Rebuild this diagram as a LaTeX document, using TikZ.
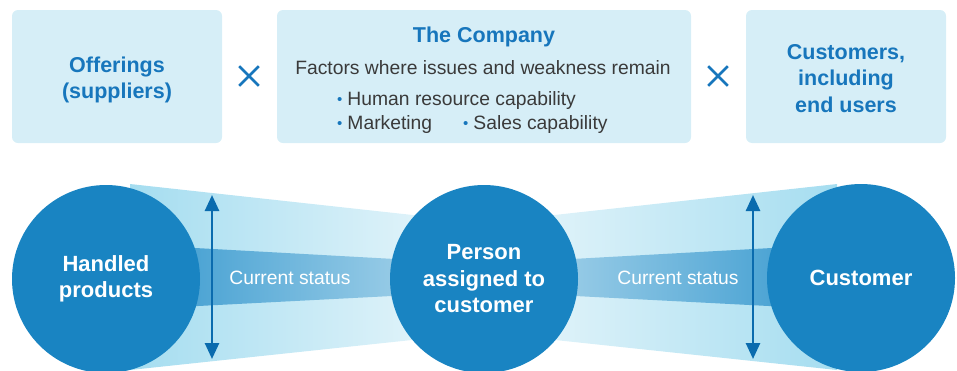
\documentclass[tikz,border=0pt]{standalone}
\usepackage{fontspec}
\setmainfont{Liberation Sans}
\usetikzlibrary{arrows.meta,shapes.misc}

\definecolor{boxfill}{HTML}{D6EEF7}
\definecolor{headblue}{HTML}{1776BC}
\definecolor{discblue}{HTML}{1984C2}
\definecolor{arrowblue}{HTML}{0A6BAE}
\definecolor{beamdark}{HTML}{A5DDF0}
\definecolor{beamlight}{HTML}{E3F4FA}
\definecolor{banddark}{HTML}{3D9CD0}
\definecolor{bandlight}{HTML}{A6D3EA}
\definecolor{bodygray}{HTML}{3A3A3A}

\tikzset{
  panel/.style={rectangle, rounded corners=6pt, fill=boxfill, minimum height=133pt, inner sep=0pt},
  headtext/.style={text=headblue, font=\fontsize{21.5}{26.5}\selectfont\bfseries, align=center},
  bodytext/.style={text=bodygray, font=\fontsize{19.3}{22}\selectfont, inner sep=0pt},
  times/.style={cross out, draw=headblue, line width=2.6pt, minimum size=17pt, inner sep=0pt},
  disc/.style={circle, fill=discblue, minimum size=188pt, inner sep=0pt, text=white,
    font=\fontsize{22}{26.5}\selectfont\bfseries, align=center},
  status/.style={text=white, font=\fontsize{19.3}{22}\selectfont},
  span/.style={arrowblue, line width=2.6pt, {Triangle[width=14pt,length=16pt]}-{Triangle[width=14pt,length=16pt]}}
}
\newcommand{\dotitem}{{\color{headblue}\fontsize{15}{15}\selectfont\raisebox{1pt}{\textbullet}}\hspace{5pt}}

\begin{document}
\begin{tikzpicture}[x=1pt,y=-1pt]
\useasboundingbox (0,0) rectangle (957,370);

% top row
\node[panel, minimum width=210pt] (offer) at (117,76.5) {};
\node[panel, minimum width=414pt] (firm) at (484,76.5) {};
\node[panel, minimum width=200pt] (cust) at (846,76.5) {};
\node[headtext] (offertxt) at (117,80) {Offerings\\(suppliers)};
\node[headtext] (custtxt) at (846,78.5) {Customers,\\including\\end users};
\node[headtext, anchor=base] (firmtxt) at (484,42) {The Company};
\node[bodytext, anchor=base] (factors) at (483,74) {Factors where issues and weakness remain};
\node[bodytext, anchor=base west] (hr) at (337,105) {\dotitem Human resource capability};
\node[bodytext, anchor=base west] (mkt) at (337,129) {\dotitem Marketing};
\node[bodytext, anchor=base west] (sales) at (463,129) {\dotitem Sales capability};
\node[times] (x1) at (249,76) {};
\node[times] (x2) at (718,76) {};

% beams between the circles
\shade[left color=beamdark, right color=beamlight]
  (130,184) -- (440,218) -- (440,337) -- (130,370) -- cycle;
\shade[left color=banddark, right color=bandlight]
  (150,245.5) -- (440,261.5) -- (440,293.5) -- (150,308.5) -- cycle;
\shade[left color=beamlight, right color=beamdark]
  (527,218) -- (837,184) -- (837,370) -- (527,337) -- cycle;
\shade[left color=bandlight, right color=banddark]
  (527,261.5) -- (817,245.5) -- (817,308.5) -- (527,293.5) -- cycle;

% circles
\node[disc] (prod) at (106,279) {Handled\\products};
\node[disc] (person) at (484,279) {Person\\assigned to\\customer};
\node[disc] (client) at (861,278) {Customer};

\node[status] (st1) at (290,278) {Current status};
\node[status] (st2) at (678,278) {Current status};

\coordinate (a1) at (212,195);
\coordinate (a2) at (212,359);
\coordinate (b1) at (753,195);
\coordinate (b2) at (753,359);
\draw[span] (a1) -- (a2);
\draw[span] (b1) -- (b2);
\end{tikzpicture}
\end{document}
